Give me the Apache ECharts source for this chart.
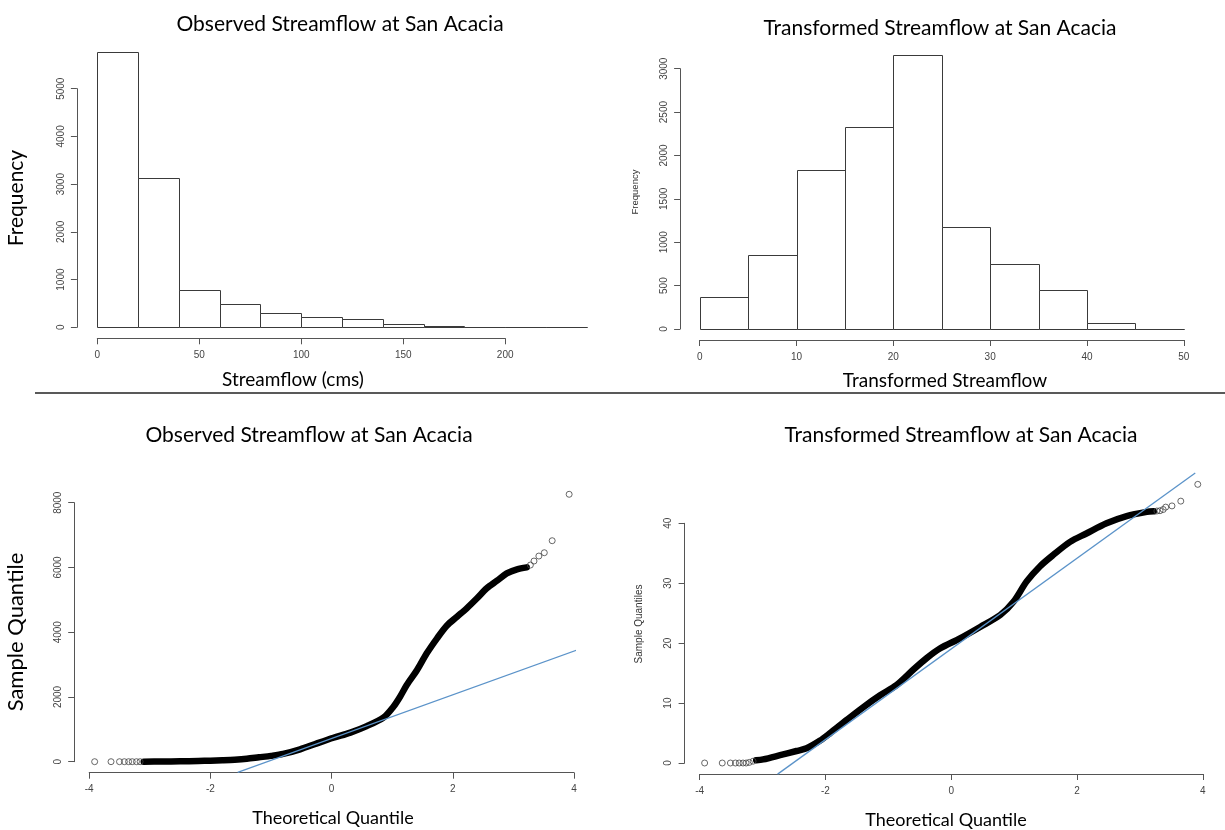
<!DOCTYPE html>
<html>
<head>
<meta charset="utf-8">
<script src="https://cdn.jsdelivr.net/npm/echarts@6/dist/echarts.min.js"></script>
<style>
html,body{margin:0;padding:0;background:#fff;}
#c{width:1225px;height:830px;}
</style>
</head>
<body>
<div id="c"></div>
<script>
// ---------- DATA ----------
// Histogram: observed streamflow (cms), bin breaks and counts
const obsBreaks = [0, 20, 40, 60, 80, 100, 120, 140, 160, 180, 200, 220, 240];
const obsCounts = [5775, 3120, 789, 496, 300, 216, 168, 63, 28, 7, 3, 2];
// Histogram: transformed streamflow
const trBreaks = [0, 5, 10, 15, 20, 25, 30, 35, 40, 45, 50];
const trCounts = [365, 853, 1829, 2332, 3154, 1179, 753, 449, 65, 0];

// Tick labels
const obsHistXTicks = [0, 50, 100, 150, 200];
const obsHistYTicks = [0, 1000, 2000, 3000, 4000, 5000];
const trHistXTicks = [0, 10, 20, 30, 40, 50];
const trHistYTicks = [0, 500, 1000, 1500, 2000, 2500, 3000];
const qqXTicks = [-4, -2, 0, 2, 4];
const obsQQYTicks = [0, 2000, 4000, 6000, 8000];
const trQQYTicks = [0, 10, 20, 30, 40];

// QQ plot: observed — dense band (theoretical, sample)
const obsQQBand = [[-3.1,0],[-2.8,5],[-2.5,12],[-2.2,22],[-2.0,32],[-1.8,45],[-1.6,62],[-1.4,90],[-1.2,135],[-1.0,180],[-0.8,240],[-0.52,383],[-0.24,568],[0.03,740],[0.31,900],[0.58,1100],[0.86,1371],[1.02,1699],[1.13,2008],[1.24,2369],[1.41,2832],[1.57,3348],[1.74,3812],[1.90,4201],[2.07,4479],[2.23,4738],[2.40,5047],[2.56,5356],[2.73,5591],[2.89,5818],[3.06,5942],[3.22,6003]];
// QQ plot: observed — isolated tail points
const obsQQPoints = [[-3.91,0],[-3.64,0],[-3.50,0],[-3.42,0],[-3.35,0],[-3.29,0],[-3.22,0],[-3.16,0],[3.28,6074],[3.34,6198],[3.42,6352],[3.51,6455],[3.64,6826],[3.92,8260]];
// QQ reference line endpoints (observed)
const obsQQLine = [[-1.55,-330],[4.24,3580]];

// QQ plot: transformed — dense band
const trQQBand = [[-3.1,0.45],[-2.99,0.6],[-2.72,1.3],[-2.46,2.0],[-2.30,2.45],[-2.09,3.7],[-1.93,4.95],[-1.66,7.2],[-1.40,9.3],[-1.13,11.3],[-0.87,13.0],[-0.60,15.6],[-0.39,17.5],[-0.18,19.1],[0.14,20.8],[0.46,22.7],[0.78,24.7],[0.99,26.9],[1.20,30.3],[1.41,32.8],[1.62,34.7],[1.89,36.9],[2.15,38.3],[2.47,40.0],[2.79,41.2],[3.11,41.9],[3.22,42.0]];
// QQ plot: transformed — tail points
const trQQPoints = [[-3.92,0],[-3.64,0],[-3.51,0],[-3.43,0],[-3.37,0],[-3.31,0],[-3.26,0],[-3.21,0.1],[-3.15,0.3],[3.27,42.05],[3.32,42.1],[3.37,42.3],[3.41,42.7],[3.51,42.9],[3.65,43.7],[3.92,46.5]];
// QQ reference line endpoints (transformed)
const trQQLine = [[-2.76,-1.86],[3.88,48.4]];

// Text
const titleObs = 'Observed Streamflow at San Acacia';
const titleTr = 'Transformed Streamflow at San Acacia';

// ---------- BUILD ----------
function histData(breaks, counts) {
  return counts.map((c, i) => [breaks[i], breaks[i + 1], c]);
}
function renderHist(params, api) {
  const p0 = api.coord([api.value(0), 0]);
  const p1 = api.coord([api.value(1), api.value(2)]);
  return {
    type: 'rect',
    shape: { x: Math.round(p0[0]) + 0.5, y: Math.round(p1[1]) + 0.5, width: Math.round(p1[0]) - Math.round(p0[0]), height: Math.round(p0[1]) - Math.round(p1[1]) },
    style: { fill: '#fff', stroke: '#3a3a3a', lineWidth: 1 }
  };
}
const tickFont = { fontFamily: 'Liberation Sans', fontSize: 10, color: '#444' };
const axisLineStyle = { onZero: false, lineStyle: { color: '#555', width: 1 } };
function xAx(gi, min, max, interval, ticks) {
  return {
    gridIndex: gi, type: 'value', min: min, max: max, interval: interval, offset: 11,
    axisLine: Object.assign({ show: true }, axisLineStyle),
    axisTick: { show: true, length: 6, lineStyle: { color: '#555' } },
    axisLabel: Object.assign({ margin: 12, formatter: v => ticks.includes(v) ? String(v) : '' }, tickFont),
    splitLine: { show: false }
  };
}
function yAx(gi, min, max, interval, offset, ticks) {
  return {
    gridIndex: gi, type: 'value', min: min, max: max, interval: interval, offset: offset,
    axisLine: Object.assign({ show: true }, axisLineStyle),
    axisTick: { show: true, length: 6, lineStyle: { color: '#555' } },
    axisLabel: Object.assign({ margin: 11, rotate: 90, formatter: v => ticks.includes(v) ? String(v) : '' }, tickFont),
    splitLine: { show: false }
  };
}

const headFont = 'Lato, "Open Sans", sans-serif';
function txt(text, x, y, size, rot, fam, color) {
  return {
    type: 'text', x: x, y: y, rotation: rot || 0,
    style: { text: text, fontFamily: fam || headFont, fontSize: size, fill: color || '#000', textAlign: 'center', textVerticalAlign: 'middle' }
  };
}

const option = {
  backgroundColor: '#fff',
  animation: false,
  grid: [
    { left: 97.3, top: 88.7, width: 407.9, height: 238.6 },
    { left: 699.7, top: 68.7, width: 484.1, height: 260.3 },
    { left: 89.2, top: 502.7, width: 484.8, height: 259 },
    { left: 699.6, top: 523.3, width: 503.2, height: 239.7 }
  ],
  xAxis: [
    xAx(0, 0, 200, 50, obsHistXTicks),
    xAx(1, 0, 50, 10, trHistXTicks),
    xAx(2, -4, 4, 2, qqXTicks),
    xAx(3, -4, 4, 2, qqXTicks)
  ],
  yAxis: [
    yAx(0, 0, 5000, 1000, 20.4, obsHistYTicks),
    yAx(1, 0, 3000, 500, 19.6, trHistYTicks),
    yAx(2, 0, 8000, 2000, 15, obsQQYTicks),
    yAx(3, 0, 40, 10, 15, trQQYTicks)
  ],
  series: [
    { type: 'custom', xAxisIndex: 0, yAxisIndex: 0, clip: false, renderItem: renderHist, data: histData(obsBreaks, obsCounts) },
    { type: 'custom', xAxisIndex: 1, yAxisIndex: 1, clip: false, renderItem: renderHist, data: histData(trBreaks, trCounts) },
    { type: 'line', xAxisIndex: 2, yAxisIndex: 2, clip: false, data: obsQQBand, showSymbol: false, smooth: 0.3,
      lineStyle: { color: '#000', width: 6.5, cap: 'round', join: 'round' }, z: 3 },
    { type: 'scatter', xAxisIndex: 2, yAxisIndex: 2, clip: false, data: obsQQPoints, symbol: 'circle', symbolSize: 6,
      itemStyle: { color: 'rgba(0,0,0,0)', borderColor: '#444', borderWidth: 1 }, z: 3 },
    { type: 'line', xAxisIndex: 2, yAxisIndex: 2, clip: false, data: obsQQLine, showSymbol: false,
      lineStyle: { color: '#5b93c9', width: 1.3 }, z: 4 },
    { type: 'line', xAxisIndex: 3, yAxisIndex: 3, clip: false, data: trQQBand, showSymbol: false, smooth: 0.3,
      lineStyle: { color: '#000', width: 6.5, cap: 'round', join: 'round' }, z: 3 },
    { type: 'scatter', xAxisIndex: 3, yAxisIndex: 3, clip: false, data: trQQPoints, symbol: 'circle', symbolSize: 6,
      itemStyle: { color: 'rgba(0,0,0,0)', borderColor: '#444', borderWidth: 1 }, z: 3 },
    { type: 'line', xAxisIndex: 3, yAxisIndex: 3, clip: false, data: trQQLine, showSymbol: false,
      lineStyle: { color: '#5b93c9', width: 1.3 }, z: 4 }
  ],
  graphic: [
    txt(titleObs, 340, 24, 21),
    txt(titleTr, 940, 28, 21),
    txt(titleObs, 309, 435, 21),
    txt(titleTr, 961, 435, 21),
    txt('Streamflow (cms)', 293, 380, 19),
    txt('Transformed Streamflow', 945, 381, 19),
    txt('Theoretical Quantile', 333, 818, 18),
    txt('Theoretical Quantile', 946, 820, 18),
    txt('Frequency', 16, 198, 21, Math.PI / 2),
    txt('Sample Quantile', 16, 632, 22, Math.PI / 2),
    txt('Frequency', 635, 192, 9.5, Math.PI / 2, 'Liberation Sans', '#333'),
    txt('Sample Quantiles', 639, 624, 10, Math.PI / 2, 'Liberation Sans', '#333'),
    { type: 'line', shape: { x1: 35, y1: 393, x2: 1225, y2: 393 }, style: { stroke: '#222', lineWidth: 1.5 } }
  ]
};
const chart = echarts.init(document.getElementById('c'), null, { renderer: 'canvas' });
chart.setOption(option);
</script>
</body>
</html>
